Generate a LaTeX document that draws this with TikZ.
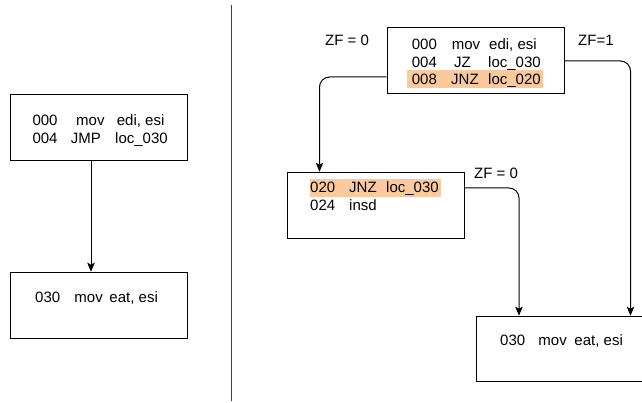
\documentclass[tikz,border=0pt]{standalone}
\usepackage{fontspec}
\setmainfont{Liberation Sans}
\usetikzlibrary{arrows.meta}
\definecolor{hl}{RGB}{250,202,158}
\tikzset{
  x=1pt, y=-1pt,
  block/.style={draw=black, line width=1pt, anchor=north west, inner sep=0pt},
  code/.style={anchor=base west, inner sep=0pt, font=\fontsize{15}{17}\selectfont},
  link/.style={draw=black, line width=1pt, rounded corners=10pt,
               -{Stealth[length=9pt,width=7.5pt,inset=2pt]}},
  hlbar/.style={fill=hl, draw=none},
}
\begin{document}
\begin{tikzpicture}
\useasboundingbox (0,0) rectangle (642,403);

% ---- left side: unconditional jump ----
\node[block, minimum width=177.3pt, minimum height=66pt] (A) at (10,94) {};
\node[block, minimum width=177.3pt, minimum height=66pt] (B) at (10,271.7) {};
\node[code] (A1) at (32.3,125.9) {\makebox[43.7pt][l]{000}\makebox[40.7pt][l]{mov}edi, esi};
\node[code] (A2) at (32.3,143.4) {\makebox[38.4pt][l]{004}\makebox[44.3pt][l]{JMP}loc\_030};
\node[code] (B1) at (35,302.1) {\makebox[39.3pt][l]{030}\makebox[35pt][l]{mov}eat, esi};
\coordinate (Aout) at (91,160);
\coordinate (Bin) at (91,271.7);
\draw[link] (Aout) -- (Bin);

% ---- separator ----
\coordinate (sepT) at (231.7,5);
\coordinate (sepB) at (231.7,401);
\draw[line width=1.2pt, black!75] (sepT) -- (sepB);

% ---- right side: conditional jumps ----
\node[block, minimum width=177.3pt, minimum height=66pt] (C) at (386.7,27.3) {};
\node[block, minimum width=177.6pt, minimum height=66.6pt] (D) at (286.7,171.7) {};
\node[block, minimum width=177.3pt, minimum height=65.3pt] (E) at (475.7,315.7) {};

\fill[hlbar] (406.7,70) rectangle (543.3,87.7);
\fill[hlbar] (310,179.3) rectangle (441,196.7);

\node[code] (C1) at (411.7,49.4) {\makebox[40pt][l]{000}\makebox[37.3pt][l]{mov}edi, esi};
\node[code] (C2) at (411.7,67.1) {\makebox[42.3pt][l]{004}\makebox[34pt][l]{JZ}loc\_030};
\node[code] (C3) at (411.7,85) {\makebox[39.3pt][l]{008}\makebox[37pt][l]{JNZ}loc\_020};
\node[code] (D1) at (310,192.9) {\makebox[39pt][l]{020}\makebox[37pt][l]{JNZ}loc\_030};
\node[code] (D2) at (310,210.9) {\makebox[39pt][l]{024}insd};
\node[code] (E1) at (500,345) {\makebox[38.3pt][l]{030}\makebox[36pt][l]{mov}eat, esi};

\node[code] (zf0a) at (325,45.4) {ZF = 0};
\node[code] (zf1) at (578,45.4) {ZF=1};
\node[code] (zf0b) at (474,178.4) {ZF = 0};

% branch connectors
\coordinate (Cleft) at (386.7,77);
\coordinate (Cright) at (564,61);
\coordinate (Dright) at (464.3,188);
\coordinate (Din) at (319.5,171.7);
\coordinate (EinR) at (630.5,315.7);
\coordinate (EinL) at (519,315.7);
\draw[link] (Cleft) -| (Din);
\draw[link] (Cright) -| (EinR);
\draw[link] (Dright) -| (EinL);
\end{tikzpicture}
\end{document}
